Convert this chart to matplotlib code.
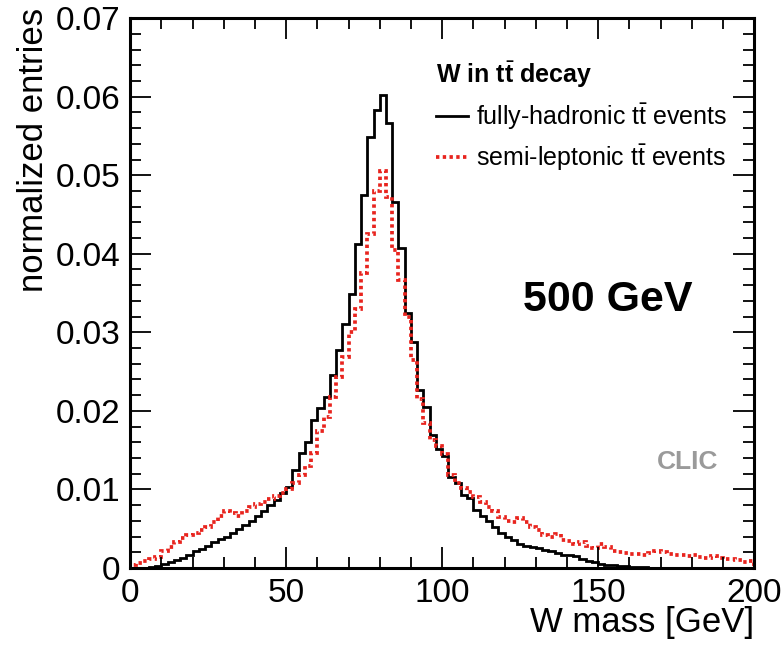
import matplotlib
matplotlib.use("Agg")
import matplotlib.pyplot as plt
import numpy as np

plt.rcParams['font.family'] = ['Liberation Sans', 'DejaVu Sans']
plt.rcParams['mathtext.fontset'] = 'custom'
plt.rcParams['mathtext.rm'] = 'Liberation Sans'
plt.rcParams['mathtext.bf'] = 'Liberation Sans:bold'

# W mass histogram, 2 GeV bins from 0 to 200 GeV
bin_width = 2
fully_hadronic = [
    0, 0, 0.00005, 0.0001, 0.0003, 0.0005, 0.0008, 0.0010, 0.0013, 0.0017,
    0.0021, 0.0024, 0.0028, 0.0033, 0.0037, 0.0040, 0.0044, 0.0050, 0.0055, 0.0060,
    0.0066, 0.0072, 0.0080, 0.0087, 0.0095, 0.0103, 0.0125, 0.0146, 0.0160, 0.0188,
    0.0204, 0.0218, 0.0246, 0.0277, 0.0311, 0.0349, 0.0413, 0.0475, 0.0549, 0.0583,
    0.0602, 0.0566, 0.0466, 0.0407, 0.0324, 0.0288, 0.0226, 0.0205, 0.0169, 0.0152,
    0.0142, 0.0116, 0.0108, 0.0093, 0.0089, 0.0074, 0.0066, 0.0060, 0.0052, 0.0045,
    0.0040, 0.0035, 0.0031, 0.0028, 0.0027, 0.0025, 0.0023, 0.0021, 0.0019, 0.0017,
    0.0016, 0.0015, 0.0011, 0.0009, 0.0007, 0.0005, 0.0004, 0.0004, 0.0003, 0.0002,
    0.0001, 0.0001, 0.0001, 0.00005, 0.00005, 0, 0, 0, 0, 0,
    0, 0, 0, 0, 0, 0, 0, 0, 0, 0,
]
semi_leptonic = [
    0.0004, 0.0006, 0.0009, 0.0012, 0.0014, 0.0022, 0.0027, 0.0033, 0.0038, 0.0042,
    0.0045, 0.0048, 0.0052, 0.0058, 0.0066, 0.0072, 0.0070, 0.0066, 0.0072, 0.0078,
    0.0082, 0.0084, 0.0088, 0.0092, 0.0096, 0.0100, 0.0108, 0.0118, 0.0130, 0.0146,
    0.0175, 0.0192, 0.0218, 0.0243, 0.0268, 0.0300, 0.0330, 0.0375, 0.0425, 0.0480,
    0.0506, 0.0472, 0.0405, 0.0366, 0.0320, 0.0265, 0.0215, 0.0185, 0.0163, 0.0155,
    0.0145, 0.0118, 0.0108, 0.0102, 0.0097, 0.0090, 0.0084, 0.0077, 0.0072, 0.0065,
    0.0060, 0.0059, 0.0064, 0.0058, 0.0052, 0.0048, 0.0042, 0.0040, 0.0043, 0.0036,
    0.0034, 0.0031, 0.0033, 0.0028, 0.0026, 0.0031, 0.0027, 0.0022, 0.0020, 0.0019,
    0.0018, 0.0018, 0.0017, 0.0019, 0.0021, 0.0020, 0.0018, 0.0017, 0.0016, 0.0015,
    0.0016, 0.0014, 0.0013, 0.0015, 0.0013, 0.0012, 0.0011, 0.0010, 0.0008, 0.0009,
]
labels = [r"fully-hadronic t$\bar{\mathrm{t}}$ events",
          r"semi-leptonic t$\bar{\mathrm{t}}$ events"]
legend_title = r"W in t$\bar{\mathbf{t}}$ decay"

edges = np.arange(len(fully_hadronic) + 1) * bin_width

fig = plt.figure(figsize=(7.84, 6.48), dpi=100)
ax = fig.add_axes([0.166, 0.1235, 0.796, 0.8485])

ax.stairs(fully_hadronic, edges, color='black', lw=2.0, label=labels[0])
ax.stairs(semi_leptonic, edges, color='#e8241e', lw=2.7, ls=(0, (0.9, 0.9)),
          label=labels[1])

ax.set_xlim(0, 200)
ax.set_ylim(0, 0.07)
ax.set_xticks(np.arange(0, 201, 50))
ax.set_xticks(np.arange(0, 201, 10), minor=True)
ax.set_yticks(np.arange(0, 0.0701, 0.01))
ax.set_yticks(np.arange(0, 0.0701, 0.002), minor=True)
ax.yaxis.set_major_formatter(lambda v, p: '0' if abs(v) < 1e-9 else f'{v:.2f}')
ax.tick_params(which='both', direction='in', top=True, right=True, width=1.3)
ax.tick_params(which='major', length=15, labelsize=24, pad=7)
ax.tick_params(which='minor', length=8)
for s in ax.spines.values():
    s.set_linewidth(2.2)

ax.set_xlabel("W mass [GeV]", fontsize=25, loc='right')
ax.xaxis.set_label_coords(1.0, -0.07)
ax.set_ylabel("normalized entries", fontsize=25, loc='top')
ax.yaxis.set_label_coords(-0.128, 1.018)

leg = ax.legend(title=legend_title, loc='upper left', bbox_to_anchor=(0.49, 0.925),
                frameon=False, fontsize=18, title_fontproperties={'weight': 'bold', 'size': 18},
                alignment='left', handlelength=1.3, handletextpad=0.3,
                labelspacing=0.42, borderpad=0, borderaxespad=0)

ax.text(0.63, 0.487, "500 GeV", transform=ax.transAxes, fontsize=31,
        fontweight='bold', ha='left', va='center')
ax.text(0.942, 0.193, "CLIC", transform=ax.transAxes, fontsize=19,
        fontweight='bold', color='#9a9a9a', ha='right', va='center')

fig.savefig("out.png", dpi=100)
